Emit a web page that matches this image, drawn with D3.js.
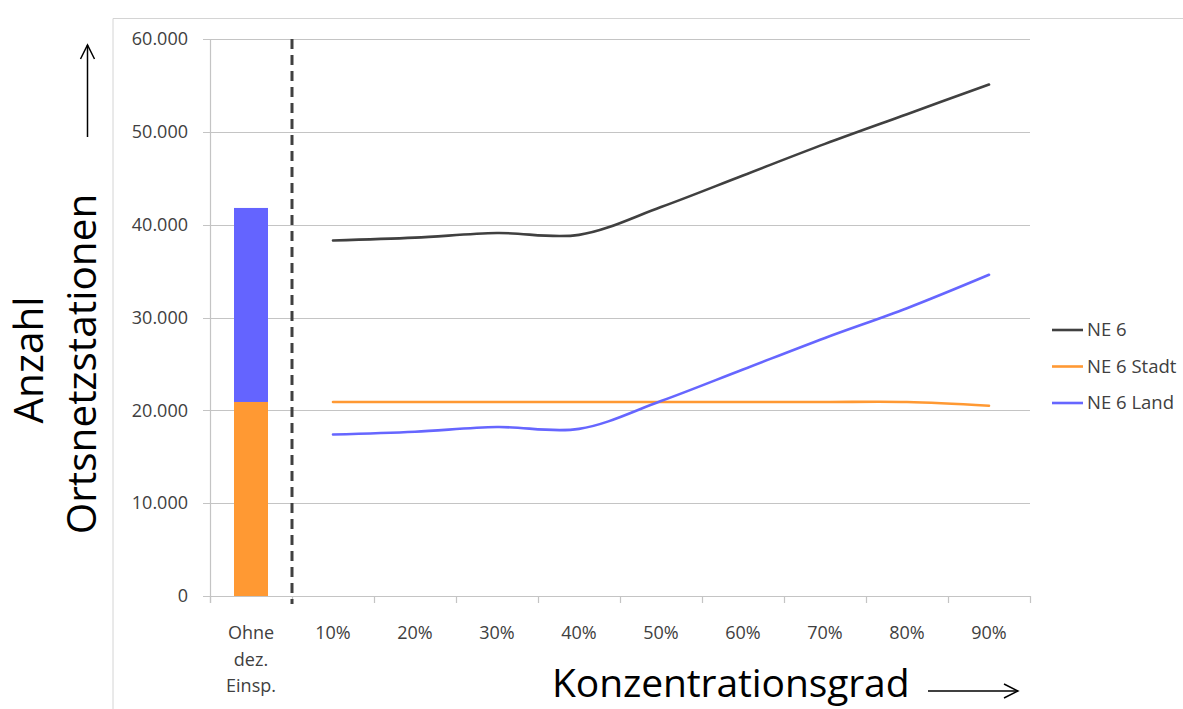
<!DOCTYPE html>
<html>
<head>
<meta charset="utf-8">
<script src="https://cdn.jsdelivr.net/npm/d3@7"></script>
<style>
  html, body { margin: 0; padding: 0; background: #fff; }
  svg { display: block; font-family: "Open Sans", "Noto Sans", sans-serif; }
</style>
</head>
<body>
<svg id="chart" width="1183" height="709"></svg>
<script>
// Categories along the x axis
const categories = ["Ohne dez. Einsp.", "10%", "20%", "30%", "40%", "50%", "60%", "70%", "80%", "90%"];
const categoryLines = [["Ohne", "dez.", "Einsp."]];

// Reference bar (without decentral feed-in): stacked Stadt + Land
const barStadt = 20900;
const barLand = 20900;

// Series over the concentration degree 10% .. 90%
const lineCategories = ["10%", "20%", "30%", "40%", "50%", "60%", "70%", "80%", "90%"];
const ne6 = [38300, 38600, 39100, 38900, 41900, 45300, 48700, 51900, 55100];
const ne6Stadt = [20900, 20900, 20900, 20900, 20900, 20900, 20900, 20900, 20500];
const ne6Land = [17400, 17700, 18200, 18000, 21000, 24400, 27800, 31000, 34600];

const yTicks = [0, 10000, 20000, 30000, 40000, 50000, 60000];
const seriesNames = ["NE 6", "NE 6 Stadt", "NE 6 Land"];
const seriesColors = ["#404040", "#ff9933", "#6666ff"];

const svg = d3.select("#chart");
const W = 1183, H = 709;
svg.append("rect").attr("width", W).attr("height", H).attr("fill", "#fff");

// Outer frame edges
svg.append("path")
  .attr("d", `M113,${H} V18.5 H${W}`)
  .attr("fill", "none").attr("stroke", "#d4d4d4").attr("stroke-width", 1);

const x = d3.scaleBand().domain(categories).range([210, 1030]).padding(0);
const y = d3.scaleLinear().domain([0, 60000]).range([596, 39]);
const fmt = v => d3.format(",")(v).replace(/,/g, ".");

// Horizontal gridlines with y tick labels
const yAxis = svg.append("g").attr("class", "y-axis");
yAxis.selectAll("line.grid").data(yTicks).join("line")
  .attr("class", "grid")
  .attr("x1", 203).attr("x2", 1030)
  .attr("y1", d => Math.round(y(d)) + 0.5).attr("y2", d => Math.round(y(d)) + 0.5)
  .attr("stroke", "#c4c4c4").attr("stroke-width", 1.2);
yAxis.selectAll("text").data(yTicks).join("text")
  .attr("x", 188).attr("y", d => y(d))
  .attr("dy", "0.35em")
  .attr("text-anchor", "end")
  .attr("font-size", 18).attr("fill", "#404040")
  .text(d => fmt(d));

// Vertical axis line
svg.append("line")
  .attr("x1", 210.5).attr("x2", 210.5).attr("y1", y(60000)).attr("y2", y(0) + 7)
  .attr("stroke", "#c4c4c4").attr("stroke-width", 1.2);

// Category tick marks below the baseline
const tickPos = categories.map(c => x(c)).concat([x.range()[1]]);
svg.selectAll("line.xtick").data(tickPos).join("line")
  .attr("class", "xtick")
  .attr("x1", d => d + 0.5).attr("x2", d => d + 0.5)
  .attr("y1", y(0)).attr("y2", y(0) + 7)
  .attr("stroke", "#c4c4c4").attr("stroke-width", 1.2);

// Category labels
const xl = svg.append("g").attr("class", "x-labels");
categories.forEach((c, i) => {
  const lines = i === 0 ? categoryLines[0] : [c];
  const t = xl.append("text")
    .attr("x", x(c) + x.bandwidth() / 2)
    .attr("y", 639)
    .attr("text-anchor", "middle")
    .attr("font-size", 18).attr("fill", "#404040");
  lines.forEach((l, j) => {
    t.append("tspan").attr("x", x(c) + x.bandwidth() / 2).attr("dy", j === 0 ? 0 : 26.5).text(l);
  });
});

// Stacked reference bar
const bw = 34;
const bx = x(categories[0]) + x.bandwidth() / 2 - bw / 2;
svg.append("rect")
  .attr("x", bx).attr("width", bw)
  .attr("y", y(barStadt)).attr("height", y(0) - y(barStadt))
  .attr("fill", "#ff9933");
svg.append("rect")
  .attr("x", bx).attr("width", bw)
  .attr("y", y(barStadt + barLand)).attr("height", y(barStadt) - y(barStadt + barLand))
  .attr("fill", "#6464ff");

// Dashed separator between the reference bar and the series
svg.append("line")
  .attr("x1", x(categories[1])).attr("x2", x(categories[1]))
  .attr("y1", y(60000)).attr("y2", y(0) + 8)
  .attr("stroke", "#404040").attr("stroke-width", 3)
  .attr("stroke-dasharray", "10,6");

// Smoothed series lines
const line = d3.line()
  .x((d, i) => x(lineCategories[i]) + x.bandwidth() / 2)
  .y(d => y(d))
  .curve(d3.curveCatmullRom.alpha(0.5));
[ne6, ne6Stadt, ne6Land].forEach((s, k) => {
  svg.append("path")
    .datum(s)
    .attr("d", line)
    .attr("fill", "none")
    .attr("stroke", seriesColors[k])
    .attr("stroke-width", 2.6)
    .attr("stroke-linecap", "round");
});

// Legend
const lg = svg.append("g").attr("class", "legend");
seriesNames.forEach((n, i) => {
  const ly = 330 + i * 36.5;
  lg.append("line")
    .attr("x1", 1052).attr("x2", 1083).attr("y1", ly).attr("y2", ly)
    .attr("stroke", seriesColors[i]).attr("stroke-width", 2.6);
  lg.append("text")
    .attr("x", 1087).attr("y", ly).attr("dy", "0.35em")
    .attr("font-size", 18.5).attr("fill", "#404040")
    .text(n);
});

// Axis titles with arrows
const arrowHead = (g, px, py, dir) => {
  // open arrow head; dir "right" or "up"
  const d = dir === "right"
    ? `M${px - 14},${py - 7} L${px},${py} L${px - 14},${py + 7}`
    : `M${px - 7},${py + 14} L${px},${py} L${px + 7},${py + 14}`;
  g.append("path").attr("d", d).attr("fill", "none").attr("stroke", "#000").attr("stroke-width", 1.5);
};

const titles = svg.append("g").attr("class", "titles");
titles.append("text")
  .attr("x", 552).attr("y", 697)
  .attr("font-size", 39).attr("letter-spacing", -0.1).attr("fill", "#000")
  .text("Konzentrationsgrad");
titles.append("line")
  .attr("x1", 928).attr("x2", 1018).attr("y1", 691).attr("y2", 691)
  .attr("stroke", "#000").attr("stroke-width", 1.5);
arrowHead(titles, 1018, 691, "right");

titles.append("text")
  .attr("transform", "translate(43,360) rotate(-90)")
  .attr("text-anchor", "middle")
  .attr("font-size", 40.5).attr("fill", "#000")
  .text("Anzahl");
titles.append("text")
  .attr("transform", "translate(96,364) rotate(-90)")
  .attr("text-anchor", "middle")
  .attr("font-size", 40.5).attr("fill", "#000")
  .text("Ortsnetzstationen");
titles.append("line")
  .attr("x1", 87.5).attr("x2", 87.5).attr("y1", 137).attr("y2", 45)
  .attr("stroke", "#000").attr("stroke-width", 1.5);
arrowHead(titles, 87.5, 45, "up");
</script>
</body>
</html>
